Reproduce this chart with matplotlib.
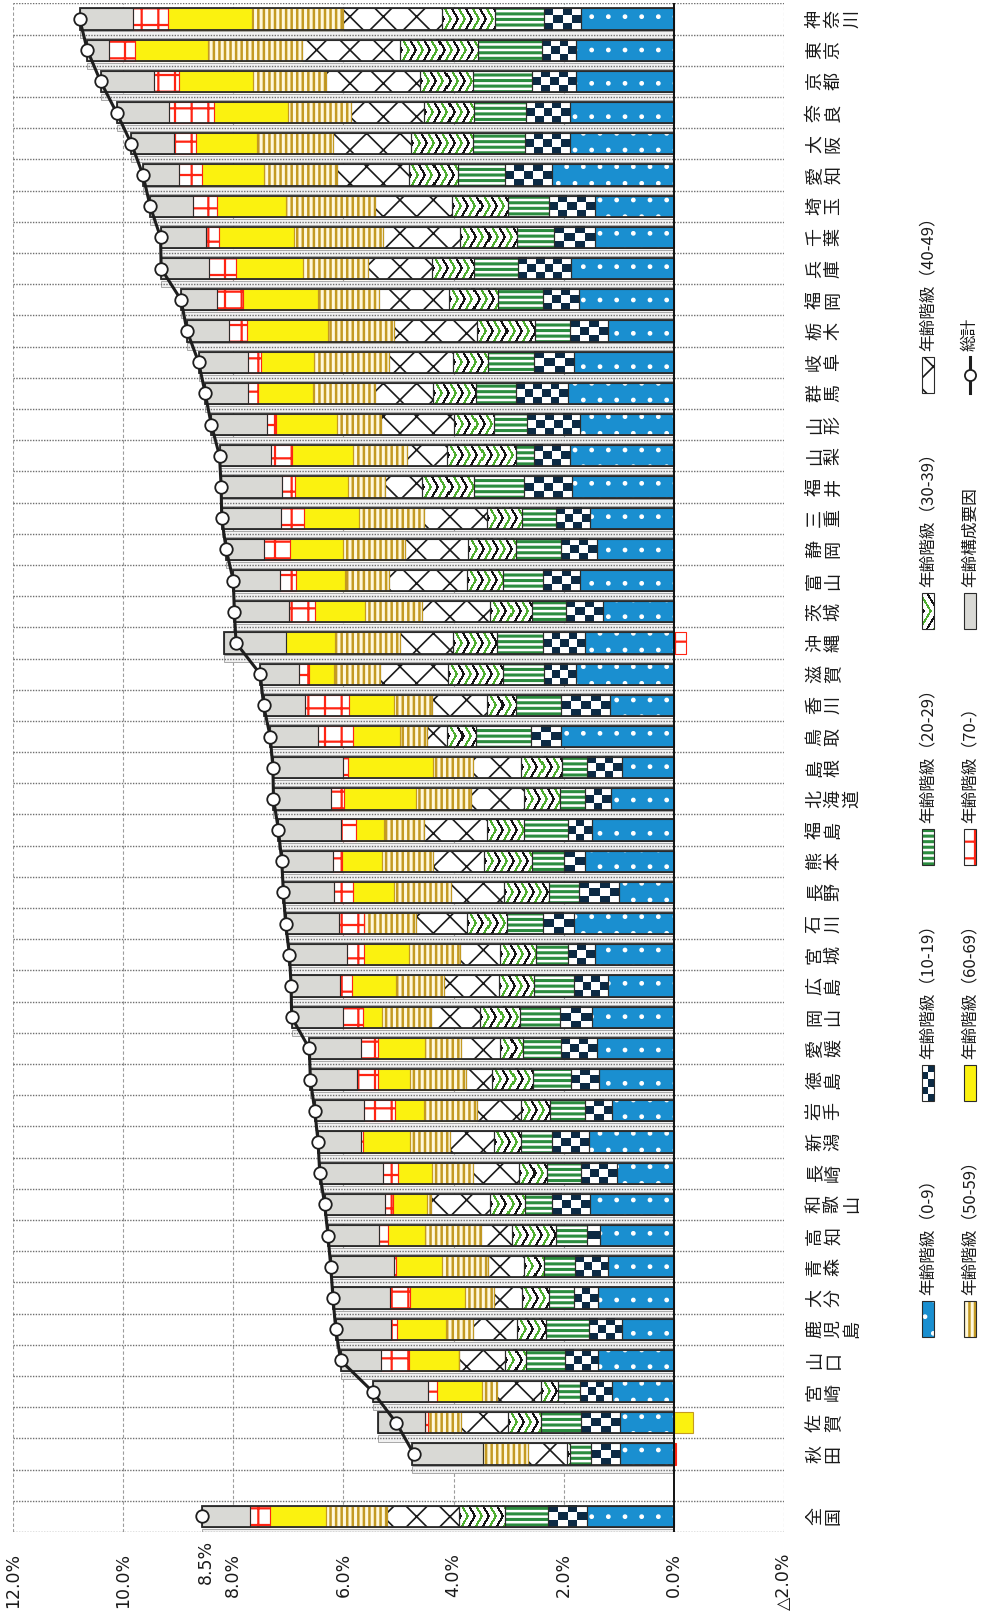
import numpy as np
import matplotlib.pyplot as plt
import matplotlib.colors as colors
from matplotlib.patches import Rectangle
from matplotlib.lines import Line2D
import matplotlib.transforms as mtrans

plt.rcParams['font.family'] = ['Noto Sans CJK JP', 'DejaVu Sans']

# ---- data (percent), rows from top (神奈川) to 秋田, then 全国 ----
prefs = ['神奈川', '東京', '京都', '奈良', '大阪', '愛知', '埼玉', '千葉', '兵庫', '福岡',
         '栃木', '岐阜', '群馬', '山形', '山梨', '福井', '三重', '静岡', '富山', '茨城',
         '沖縄', '滋賀', '香川', '鳥取', '島根', '北海道', '福島', '熊本', '長野', '石川',
         '宮城', '広島', '岡山', '愛媛', '徳島', '岩手', '新潟', '長崎', '和歌山', '高知',
         '青森', '大分', '鹿児島', '山口', '宮崎', '佐賀', '秋田', '全国']

age0_9 = [1.69, 1.77, 1.77, 1.89, 1.89, 2.22, 1.44, 1.44, 1.87, 1.73, 1.20, 1.81, 1.93, 1.70, 1.89, 1.85,
          1.53, 1.40, 1.70, 1.28, 1.61, 1.77, 1.16, 2.05, 0.94, 1.14, 1.49, 1.61, 1.00, 1.81, 1.44, 1.20,
          1.49, 1.40, 1.36, 1.12, 1.54, 1.04, 1.53, 1.35, 1.19, 1.38, 0.94, 1.38, 1.13, 0.97, 0.97, 1.58]
age10_19 = [0.67, 0.63, 0.80, 0.79, 0.81, 0.85, 0.83, 0.73, 0.96, 0.65, 0.69, 0.73, 0.93, 0.97, 0.65, 0.88,
            0.61, 0.65, 0.67, 0.67, 0.77, 0.58, 0.89, 0.54, 0.63, 0.47, 0.43, 0.39, 0.73, 0.57, 0.49, 0.61,
            0.57, 0.65, 0.50, 0.50, 0.67, 0.65, 0.69, 0.22, 0.60, 0.43, 0.60, 0.60, 0.58, 0.71, 0.53, 0.70]
age20_29 = [0.89, 1.15, 1.07, 0.94, 0.95, 0.85, 0.75, 0.67, 0.80, 0.81, 0.63, 0.84, 0.73, 0.59, 0.32, 0.89,
            0.61, 0.81, 0.73, 0.63, 0.84, 0.75, 0.81, 1.00, 0.46, 0.45, 0.81, 0.57, 0.54, 0.65, 0.57, 0.73,
            0.73, 0.69, 0.70, 0.62, 0.57, 0.61, 0.49, 0.57, 0.57, 0.46, 0.78, 0.70, 0.39, 0.73, 0.39, 0.79]
age30_39 = [0.96, 1.42, 0.97, 0.91, 1.12, 0.89, 1.00, 1.04, 0.76, 0.89, 1.06, 0.63, 0.79, 0.73, 1.26, 0.95,
            0.65, 0.87, 0.65, 0.75, 0.79, 1.01, 0.53, 0.53, 0.75, 0.67, 0.67, 0.87, 0.81, 0.73, 0.65, 0.63,
            0.73, 0.42, 0.75, 0.54, 0.49, 0.51, 0.62, 0.79, 0.37, 0.49, 0.52, 0.39, 0.32, 0.61, 0.05, 0.83]
age40_49 = [1.79, 1.79, 1.70, 1.34, 1.42, 1.30, 1.41, 1.40, 1.16, 1.27, 1.51, 1.16, 1.04, 1.32, 0.73, 0.67,
            1.14, 1.16, 1.42, 1.24, 0.97, 1.22, 1.01, 0.37, 0.87, 0.95, 1.14, 0.93, 0.96, 0.92, 0.73, 1.00,
            0.89, 0.71, 0.47, 0.79, 0.79, 0.83, 1.08, 0.57, 0.65, 0.51, 0.80, 0.83, 0.80, 0.84, 0.71, 1.30]
age50_59 = [1.66, 1.70, 1.34, 1.14, 1.38, 1.34, 1.62, 1.62, 1.18, 1.12, 1.19, 1.36, 1.14, 0.81, 0.97, 0.68,
            1.18, 1.11, 0.81, 1.03, 1.18, 0.85, 0.69, 0.49, 0.73, 1.01, 0.73, 0.93, 1.04, 0.95, 0.93, 0.87,
            0.89, 0.65, 1.01, 0.96, 0.73, 0.75, 0.08, 1.02, 0.83, 0.53, 0.50, 0.00, 0.26, 0.61, 0.81, 1.12]
age60_69 = [1.52, 1.32, 1.34, 1.34, 1.10, 1.12, 1.24, 1.36, 1.22, 1.36, 1.48, 0.97, 0.99, 1.11, 1.12, 0.96,
            1.00, 0.97, 0.89, 0.92, 0.89, 0.45, 0.81, 0.85, 1.53, 1.30, 0.50, 0.73, 0.75, 0.00, 0.81, 0.81,
            0.35, 0.85, 0.59, 0.53, 0.86, 0.62, 0.61, 0.67, 0.83, 0.99, 0.89, 0.91, 0.82, -0.34, 0.00, 1.01]
age70 = [0.65, 0.48, 0.45, 0.81, 0.41, 0.42, 0.45, 0.23, 0.50, 0.47, 0.31, 0.24, 0.19, 0.16, 0.38, 0.24,
         0.41, 0.47, 0.28, 0.46, -0.22, 0.18, 0.80, 0.63, 0.10, 0.24, 0.27, 0.16, 0.34, 0.45, 0.32, 0.21,
         0.36, 0.32, 0.37, 0.57, 0.03, 0.28, 0.14, 0.16, 0.05, 0.37, 0.11, 0.51, 0.17, 0.04, -0.03, 0.37]
structure = [0.96, 0.39, 0.97, 0.96, 0.77, 0.65, 0.77, 0.83, 0.86, 0.65, 0.77, 0.89, 0.77, 1.01, 0.93, 1.10,
             1.08, 0.69, 0.85, 1.00, 1.12, 0.70, 0.75, 0.87, 1.27, 1.04, 1.14, 0.93, 0.92, 0.97, 1.04, 0.89,
             0.93, 0.93, 0.85, 0.89, 0.78, 1.14, 1.10, 0.93, 1.14, 1.03, 1.00, 0.73, 1.00, 0.87, 1.29, 0.87]

legend_labels = ['年齢階級（0-9）', '年齢階級（10-19）', '年齢階級（20-29）', '年齢階級（30-39）',
                 '年齢階級（40-49）', '年齢階級（50-59）', '年齢階級（60-69）', '年齢階級（70-）',
                 '年齢構成要因', '総計']
tick_vals = [12, 10, 8.5, 8, 6, 4, 2, 0, -2]
tick_text = ['12.0%', '10.0%', '8.5%', '8.0%', '6.0%', '4.0%', '2.0%', '0.0%', '△2.0%']

# ---- layout ----
W, H = 984, 1620
fig = plt.figure(figsize=(W / 100, H / 100), dpi=100)
AX_L, AX_R, AX_T, AX_B = 13, 784, 3.4, 1532
ax = fig.add_axes([AX_L / W, 1 - AX_B / H, (AX_R - AX_L) / W, (AX_B - AX_T) / H])
XMAX, XMIN = 12, -2
px_per_unit = (AX_R - AX_L) / (XMAX - XMIN)

rows = np.r_[np.arange(len(prefs) - 1), len(prefs)].astype(float)
vals = np.array([age0_9, age10_19, age20_29, age30_39, age40_49, age50_59, age60_69, age70, structure])
pos_cum = np.zeros(vals.shape[1])
neg_cum = np.zeros(vals.shape[1])
lefts = np.zeros_like(vals)
for k in range(vals.shape[0]):
    v = vals[k]
    lefts[k] = np.where(v >= 0, pos_cum, neg_cum)
    pos_cum += np.where(v >= 0, v, 0)
    neg_cum += np.where(v < 0, v, 0)
total = vals.sum(axis=0)
bh = 0.68

BLUE = '#1a8fd0'
NAVY = '#0c2a44'
GREEN = '#2b8c3f'
GOLD = '#c49a22'
YELLOW = '#fbf20f'
RED = '#ff2413'
GRAY = '#d9d9d5'
EDGE = '#2b2b2b'
TXT = '#1a1a1a'


def hatched(ax_, y, w, left, face, hatch, hcol, hlw, z=2):
    with plt.rc_context({'hatch.linewidth': hlw}):
        bars = ax_.barh(y, w, left=left, height=bh, color=face, hatch=hatch,
                        edgecolor=hcol, linewidth=0, zorder=z)
    for b in bars:
        if hasattr(b, 'set_hatch_linewidth'):
            b.set_hatch_linewidth(hlw)
    return bars


def hatched_rect(ax_, x0, y0, w, h, face, hatch, hcol, hlw):
    with plt.rc_context({'hatch.linewidth': hlw}):
        r = Rectangle((x0, y0), w, h, facecolor=face, hatch=hatch, edgecolor=hcol, lw=0)
    if hasattr(r, 'set_hatch_linewidth'):
        r.set_hatch_linewidth(hlw)
    ax_.add_patch(r)


def checker_img(wpx, hpx):
    nc = max(1, int(round(wpx / 9.0)))
    nr = max(1, int(round(hpx / 7.0)))
    return np.add.outer(np.arange(nr), np.arange(nc)) % 2


def zigzag_img(wpx, hpx, period=7.0, lw=2.4):
    w = max(1, int(round(wpx)))
    h = max(1, int(round(hpx)))
    c = np.arange(w)[None, :]
    r = np.arange(h)[:, None]
    u = c + np.abs(r - (h - 1) / 2.0) * 0.6
    on = (u % period) < lw
    k = np.floor(u / period) % 2
    img = np.ones((h, w, 3))
    blk = np.array([0.08, 0.08, 0.08])
    grn = np.array([0.30, 0.68, 0.18])
    col = np.where((k == 0)[..., None], blk, grn)
    return np.where(on[..., None], col, img)


checker_cmap = colors.ListedColormap(['white', NAVY])
bar_px_h = bh * (AX_B - AX_T) / 49.0

# light band under each bar
ax.barh(rows + 0.5, pos_cum, left=0, height=0.2, color='#f1f1f1', edgecolor='#a8a8a8',
        linewidth=0.7, zorder=1.2)

# segments
hatched(ax, rows, vals[0], lefts[0], BLUE, '.', 'white', 1.0)
ax.barh(rows, vals[1], left=lefts[1], height=bh, color='white', linewidth=0, zorder=2)
for y, l, v in zip(rows, lefts[1], vals[1]):
    if v != 0:
        ax.imshow(checker_img(abs(v) * px_per_unit, bar_px_h), cmap=checker_cmap, vmin=0, vmax=1,
                  extent=(l, l + v, y + bh / 2, y - bh / 2), aspect='auto', interpolation='nearest',
                  zorder=2.2)
hatched(ax, rows, vals[2], lefts[2], 'white', '---', GREEN, 2.2)
for y, l, v in zip(rows, lefts[3], vals[3]):
    if v != 0:
        ax.imshow(zigzag_img(abs(v) * px_per_unit, bar_px_h),
                  extent=(l + v, l, y + bh / 2, y - bh / 2), aspect='auto', interpolation='nearest',
                  zorder=2.2)
hatched(ax, rows, vals[4], lefts[4], 'white', 'x', '#1a1a1a', 1.2)
hatched(ax, rows, vals[5], lefts[5], '#fff8dc', '|||', GOLD, 1.8)
ax.barh(rows, vals[6], left=lefts[6], height=bh, color=YELLOW, linewidth=0, zorder=2)
hatched(ax, rows, vals[7], lefts[7], 'white', '+', RED, 1.6)
ax.barh(rows, vals[8], left=lefts[8], height=bh, color=GRAY, linewidth=0, zorder=2)

# segment outlines
seg_edges = [EDGE, EDGE, EDGE, EDGE, EDGE, GOLD, GOLD, RED, EDGE]
for k in range(vals.shape[0]):
    ax.barh(rows, vals[k], left=lefts[k], height=bh, fill=False,
            edgecolor=seg_edges[k], linewidth=0.8, zorder=3)
ax.barh(rows, pos_cum, left=0, height=bh, fill=False, edgecolor=EDGE, linewidth=1.3, zorder=3.2)

# total line
n_pref = len(prefs) - 1
ax.plot(total[:n_pref], rows[:n_pref], color='#1e1e1e', lw=2.2, zorder=6)
ax.plot(total, rows, ls='none', marker='o', ms=9, mfc='white', mec='#1e1e1e', mew=1.3, zorder=7)

# grid
for g in [12, 10, 8, 6, 4, 2, -2]:
    ax.axvline(g, color='#9c9c9c', lw=0.8, ls=(0, (3, 2)), zorder=1)
for b in np.arange(-0.5, 49, 1.0):
    ax.axhline(b, color='#6f6f6f', lw=1.0, ls=(0, (1, 1)), zorder=1.5)
ax.axvline(0, color='#111111', lw=1.4, zorder=4)

ax.set_xlim(XMAX, XMIN)
ax.set_ylim(48.5, -0.5)
ax.set_xticks([])
ax.set_yticks([])
for s in ax.spines.values():
    s.set_visible(False)

# value labels (rotated)
trans = mtrans.blended_transform_factory(ax.transData, ax.transAxes)
for tv, tt in zip(tick_vals, tick_text):
    dy = -8 if tv == 8.5 else -21
    ax.text(tv, dy / (AX_B - AX_T), tt, transform=trans, rotation=90, ha='center', va='top',
            fontsize=12.5, color=TXT, family=['DejaVu Sans'])

# category labels: characters stacked left to right, each turned
lab = fig.add_axes([790 / W, 1 - AX_B / H, 90 / W, (AX_B - AX_T) / H])
lab.set_xlim(0, 90)
lab.set_ylim(48.5, -0.5)
lab.axis('off')
for y, name in zip(rows, prefs):
    for j, ch in enumerate(name):
        lab.text(25 + 18.5 * j, y, ch, rotation=90, ha='center', va='center', fontsize=13,
                 color=TXT)

# legend (pixel space)
lg = fig.add_axes([0, 0, 1, 1], facecolor='none')
lg.set_xlim(0, W)
lg.set_ylim(H, 0)
lg.axis('off')
key_w, key_h = 12, 36
col_x = [928, 970]
key_bottom = [1337, 1101, 865, 629, 393]


def key_patch(i, x0, y0):
    if i == 0:
        hatched_rect(lg, x0, y0, key_w, key_h, BLUE, '.', 'white', 1.0)
    elif i == 1:
        lg.imshow(checker_img(key_w * 1.4, key_h), cmap=checker_cmap, vmin=0, vmax=1,
                  extent=(x0, x0 + key_w, y0 + key_h, y0), aspect='auto', interpolation='nearest')
    elif i == 2:
        hatched_rect(lg, x0, y0, key_w, key_h, 'white', '---', GREEN, 2.2)
    elif i == 3:
        lg.imshow(zigzag_img(key_w, key_h),
                  extent=(x0, x0 + key_w, y0 + key_h, y0), aspect='auto', interpolation='nearest')
    elif i == 4:
        hatched_rect(lg, x0, y0, key_w, key_h, 'white', 'x', '#1a1a1a', 1.2)
    elif i == 5:
        hatched_rect(lg, x0, y0, key_w, key_h, '#fff8dc', '|||', GOLD, 1.8)
    elif i == 6:
        lg.add_patch(Rectangle((x0, y0), key_w, key_h, facecolor=YELLOW, lw=0))
    elif i == 7:
        hatched_rect(lg, x0, y0, key_w, key_h, 'white', '+', RED, 1.6)
    elif i == 8:
        lg.add_patch(Rectangle((x0, y0), key_w, key_h, facecolor=GRAY, lw=0))
    if i < 9:
        lg.add_patch(Rectangle((x0, y0), key_w, key_h, fill=False, edgecolor=EDGE, lw=0.8))
    else:
        lg.add_line(Line2D([x0 + key_w / 2] * 2, [y0, y0 + key_h], color='#1e1e1e', lw=2.2))
        lg.add_line(Line2D([x0 + key_w / 2], [y0 + key_h / 2], marker='o', ms=8, mfc='white',
                           mec='#1e1e1e', mew=1.3))


for i, txt in enumerate(legend_labels):
    c, r = divmod(i, 5)
    cx = col_x[c]
    yb = key_bottom[r]
    key_patch(i, cx - key_w / 2, yb - key_h)
    lg.text(cx, yb - key_h - 6, txt, rotation=90, ha='center', va='bottom', fontsize=12,
            color=TXT)

lg.set_xlim(0, W)
lg.set_ylim(H, 0)
fig.savefig('out.png', dpi=100)
plt.close(fig)
